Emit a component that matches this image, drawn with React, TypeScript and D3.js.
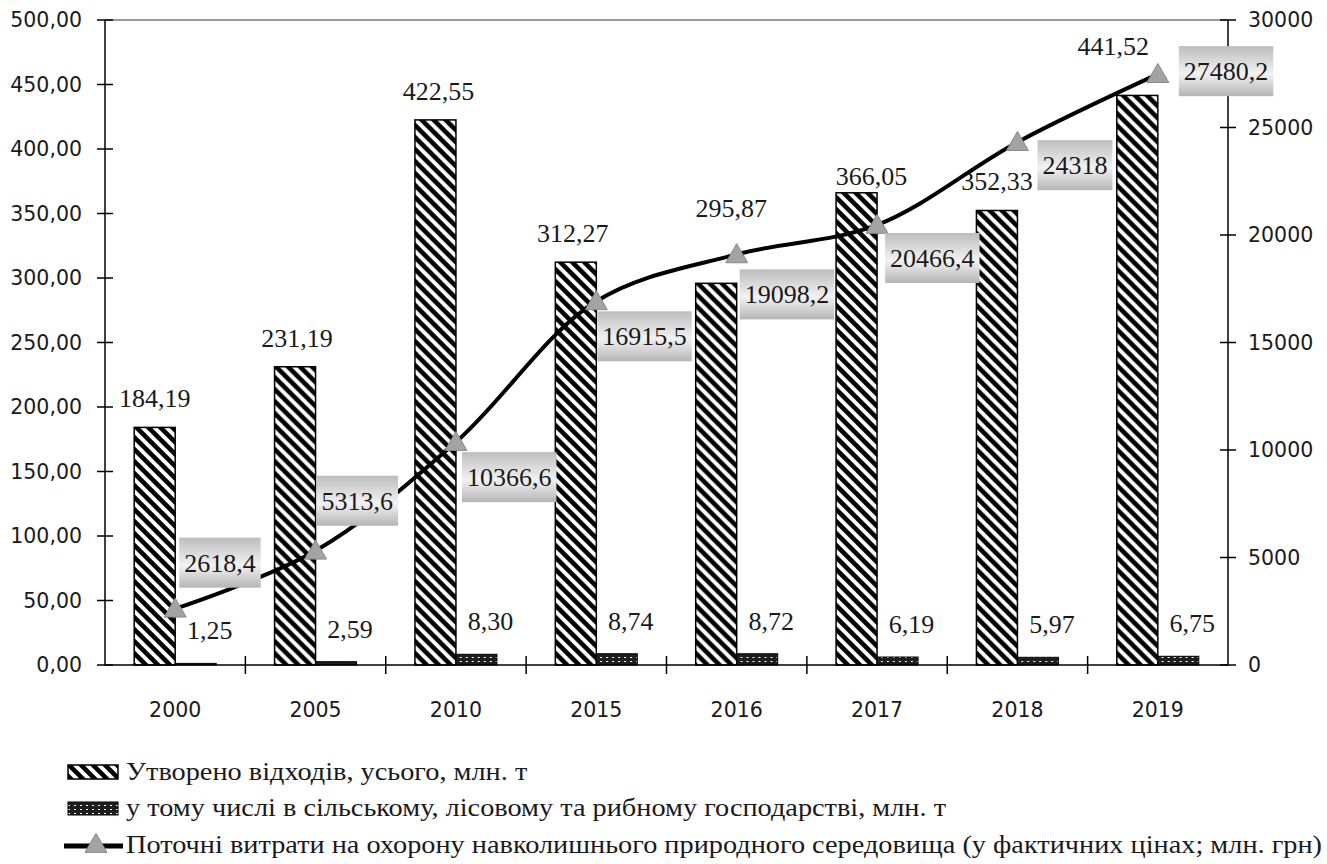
import { useEffect, useRef } from "react"
import * as d3 from "d3"

const years = ["2000", "2005", "2010", "2015", "2016", "2017", "2018", "2019"]
const wasteTotal = [184.19, 231.19, 422.55, 312.27, 295.87, 366.05, 352.33, 441.52]
const wasteAgri = [1.25, 2.59, 8.3, 8.74, 8.72, 6.19, 5.97, 6.75]
const envCosts = [2618.4, 5313.6, 10366.6, 16915.5, 19098.2, 20466.4, 24318, 27480.2]
const leftTicks = [0, 50, 100, 150, 200, 250, 300, 350, 400, 450, 500]
const rightTicks = [0, 5000, 10000, 15000, 20000, 25000, 30000]
const legendLabels = [
  "Утворено відходів, усього, млн. т",
  "у тому числі в сільському, лісовому та рибному господарстві, млн. т",
  "Поточні витрати на охорону навколишнього природного середовища (у фактичних цінах; млн. грн)",
]

// label nudges, as moved by hand in the source chart
const totalLabelShift: [number, number][] = [
  [0, 0], [2, 0], [3, 0], [-3, 0], [15, -46], [15, 12], [0, 0], [-24, -20],
]
const costLabelShift: [number, number][] = [
  [4, -46], [1, -50], [6, 35], [1, 35], [3, 40], [8, 33], [20, 23], [21, -3],
]

const serif = "'Liberation Serif', Tinos, 'Times New Roman', 'Noto Serif', 'DejaVu Serif', FreeSerif, serif"
const sans = "'DejaVu Sans', Verdana, sans-serif"
const ink = "#1a1a1a"

export default function App() {
  const svgRef = useRef<SVGSVGElement>(null)

  useEffect(() => {
    if (!svgRef.current) return
    const svg = d3.select(svgRef.current)
    svg.selectAll("*").remove()

    const margin = { top: 20, right: 99, bottom: 199, left: 105 }
    const W = 1327
    const H = 864
    const x0 = margin.left
    const x1 = W - margin.right
    const yTop = margin.top
    const yBot = H - margin.bottom

    const x = d3.scaleBand<string>().domain(years).range([x0, x1]).padding(0)
    const bw = x.bandwidth()
    const barW = 41
    const xs = d3.scaleBand<string>().domain(["total", "agri"]).range([bw / 2 - barW, bw / 2 + barW])
    const yL = d3.scaleLinear().domain([0, 500]).range([yBot, yTop])
    const yR = d3.scaleLinear().domain([0, 30000]).range([yBot, yTop])

    const defs = svg.append("defs")
    const diag = defs
      .append("pattern")
      .attr("id", "diag")
      .attr("patternUnits", "userSpaceOnUse")
      .attr("width", 12)
      .attr("height", 12)
    diag.append("rect").attr("width", 12).attr("height", 12).attr("fill", "#fff")
    diag
      .append("path")
      .attr("d", "M0,0 L12,12 M-2,10 L2,14 M10,-2 L14,2")
      .attr("stroke", "#000")
      .attr("stroke-width", 4.6)

    const dots = defs
      .append("pattern")
      .attr("id", "dots")
      .attr("patternUnits", "userSpaceOnUse")
      .attr("width", 6)
      .attr("height", 4)
    dots.append("rect").attr("width", 6).attr("height", 4).attr("fill", "#1e1e1e")
    dots.append("rect").attr("x", 2).attr("y", 1).attr("width", 2).attr("height", 1).attr("fill", "#fff")

    const grad = defs
      .append("linearGradient")
      .attr("id", "boxgrad")
      .attr("x1", 0)
      .attr("y1", 0)
      .attr("x2", 0)
      .attr("y2", 1)
    grad.append("stop").attr("offset", "0%").attr("stop-color", "#bdbdbd")
    grad.append("stop").attr("offset", "55%").attr("stop-color", "#f2f2f2")
    grad.append("stop").attr("offset", "100%").attr("stop-color", "#b5b5b5")

    svg.append("rect").attr("width", W).attr("height", H).attr("fill", "#fff")

    // top border of plot area
    svg
      .append("line")
      .attr("x1", x0)
      .attr("x2", x1)
      .attr("y1", yTop)
      .attr("y2", yTop)
      .attr("stroke", "#9a9a9a")
      .attr("stroke-width", 2)

    // bars
    const groups = svg
      .append("g")
      .selectAll("g")
      .data(years)
      .enter()
      .append("g")
      .attr("transform", (d) => `translate(${x(d)},0)`)

    groups
      .append("rect")
      .attr("x", xs("total")!)
      .attr("y", (_, i) => yL(wasteTotal[i]))
      .attr("width", barW)
      .attr("height", (_, i) => yBot - yL(wasteTotal[i]))
      .attr("fill", "url(#diag)")
      .attr("stroke", "#000")
      .attr("stroke-width", 1.5)

    groups
      .append("rect")
      .attr("x", xs("agri")!)
      .attr("y", (_, i) => yL(wasteAgri[i]))
      .attr("width", barW)
      .attr("height", (_, i) => yBot - yL(wasteAgri[i]))
      .attr("fill", "url(#dots)")
      .attr("stroke", "#000")
      .attr("stroke-width", 1)

    const fmt2 = (v: number) => d3.format(".2f")(v).replace(".", ",")

    groups
      .append("text")
      .attr("x", (_, i) => xs("total")! + barW / 2 + totalLabelShift[i][0])
      .attr("y", (_, i) => yL(wasteTotal[i]) - 20 + totalLabelShift[i][1])
      .attr("text-anchor", "middle")
      .style("font-family", serif)
      .style("font-size", "26px")
      .style("fill", ink)
      .text((_, i) => fmt2(wasteTotal[i]))

    groups
      .append("text")
      .attr("x", xs("agri")! + barW / 2 + 14)
      .attr("y", (_, i) => yL(wasteAgri[i]) - 24)
      .attr("text-anchor", "middle")
      .style("font-family", serif)
      .style("font-size", "26px")
      .style("fill", ink)
      .text((_, i) => fmt2(wasteAgri[i]))

    // axes
    const axes = svg.append("g").attr("stroke", "#000").attr("stroke-width", 1.5)
    axes.append("line").attr("x1", x0).attr("x2", x0).attr("y1", yTop).attr("y2", yBot)
    axes.append("line").attr("x1", x1).attr("x2", x1).attr("y1", yTop).attr("y2", yBot)
    axes.append("line").attr("x1", x0).attr("x2", x1).attr("y1", yBot).attr("y2", yBot)

    leftTicks.forEach((t) => {
      axes.append("line").attr("x1", x0 - 8).attr("x2", x0 + 8).attr("y1", yL(t)).attr("y2", yL(t))
    })
    rightTicks.forEach((t) => {
      axes.append("line").attr("x1", x1 - 8).attr("x2", x1 + 8).attr("y1", yR(t)).attr("y2", yR(t))
    })
    years.slice(1).forEach((yr) => {
      const xx = x(yr)!
      axes.append("line").attr("x1", xx).attr("x2", xx).attr("y1", yBot - 9).attr("y2", yBot + 9)
    })

    svg
      .append("g")
      .selectAll("text")
      .data(leftTicks)
      .enter()
      .append("text")
      .attr("x", x0 - 23)
      .attr("y", (d) => yL(d))
      .attr("dy", "0.36em")
      .attr("text-anchor", "end")
      .style("font-family", sans)
      .style("font-size", "20.5px")
      .style("fill", ink)
      .text((d) => fmt2(d))

    svg
      .append("g")
      .selectAll("text")
      .data(rightTicks)
      .enter()
      .append("text")
      .attr("x", x1 + 20)
      .attr("y", (d) => yR(d))
      .attr("dy", "0.36em")
      .style("font-family", sans)
      .style("font-size", "20.5px")
      .style("fill", ink)
      .text((d) => String(d))

    svg
      .append("g")
      .selectAll("text")
      .data(years)
      .enter()
      .append("text")
      .attr("x", (d) => x(d)! + bw / 2)
      .attr("y", yBot + 45)
      .attr("dy", "0.36em")
      .attr("text-anchor", "middle")
      .style("font-family", sans)
      .style("font-size", "20.5px")
      .style("fill", ink)
      .text((d) => d)

    // cost line
    const pts: [number, number][] = envCosts.map((v, i) => [x(years[i])! + bw / 2, yR(v)])
    const line = d3.line().curve(d3.curveCatmullRom.alpha(0.5))
    svg
      .append("path")
      .attr("d", line(pts))
      .attr("fill", "none")
      .attr("stroke", "#000")
      .attr("stroke-width", 4)

    const tri = d3.symbol().type(d3.symbolTriangle).size(210)
    svg
      .append("g")
      .selectAll("path")
      .data(pts)
      .enter()
      .append("path")
      .attr("d", tri())
      .attr("transform", (p) => `translate(${p[0]},${p[1] + 2})`)
      .attr("fill", "#a3a3a3")
      .attr("stroke", "#8a8a8a")
      .attr("stroke-width", 1)

    // cost labels in gradient boxes
    const labels = svg.append("g")
    envCosts.forEach((v, i) => {
      const [px, py] = pts[i]
      const [dx, dy] = costLabelShift[i]
      const g = labels.append("g")
      const rect = g.append("rect").attr("fill", "url(#boxgrad)")
      const t = g
        .append("text")
        .attr("y", py + dy)
        .attr("dy", "0.35em")
        .style("font-family", serif)
        .style("font-size", "26px")
        .style("fill", ink)
        .text(String(v).replace(".", ","))
      const tw = (t.node() as SVGTextElement).getComputedTextLength()
      const left = px + dx
      t.attr("x", left + 5)
      rect
        .attr("x", left)
        .attr("y", py + dy - 25)
        .attr("width", tw + 10)
        .attr("height", 50)
    })

    // legend
    const leg = svg.append("g")
    const rows = [780, 816, 853]
    leg
      .append("rect")
      .attr("x", 68)
      .attr("y", rows[0] - 15)
      .attr("width", 50)
      .attr("height", 14)
      .attr("fill", "url(#diag)")
      .attr("stroke", "#000")
      .attr("stroke-width", 1.5)
    leg
      .append("rect")
      .attr("x", 68)
      .attr("y", rows[1] - 14)
      .attr("width", 50)
      .attr("height", 13)
      .attr("fill", "url(#dots)")
      .attr("stroke", "#000")
      .attr("stroke-width", 1)
    leg
      .append("line")
      .attr("x1", 64)
      .attr("x2", 123)
      .attr("y1", rows[2] - 7)
      .attr("y2", rows[2] - 7)
      .attr("stroke", "#000")
      .attr("stroke-width", 5)
    leg
      .append("path")
      .attr("d", tri())
      .attr("transform", `translate(96,${rows[2] - 7})`)
      .attr("fill", "#a3a3a3")
      .attr("stroke", "#8a8a8a")
    const legTexts = legendLabels.map((txt, i) =>
      leg
        .append("text")
        .attr("x", 126)
        .attr("y", rows[i])
        .style("font-family", serif)
        .style("font-size", "25px")
        .style("fill", ink)
        .text(txt)
    )
    // the longest row runs to the right edge in the source; stretch all rows by the same factor
    const widths = legTexts.map((t) => (t.node() as SVGTextElement).getComputedTextLength())
    const k = (W - 5 - 126) / widths[2]
    legTexts.forEach((t, i) => {
      t.attr("textLength", widths[i] * k).attr("lengthAdjust", "spacingAndGlyphs")
    })
  }, [])

  return (
    <svg
      ref={svgRef}
      width={1327}
      height={864}
      style={{ position: "absolute", left: 0, top: 0, display: "block" }}
    />
  )
}
